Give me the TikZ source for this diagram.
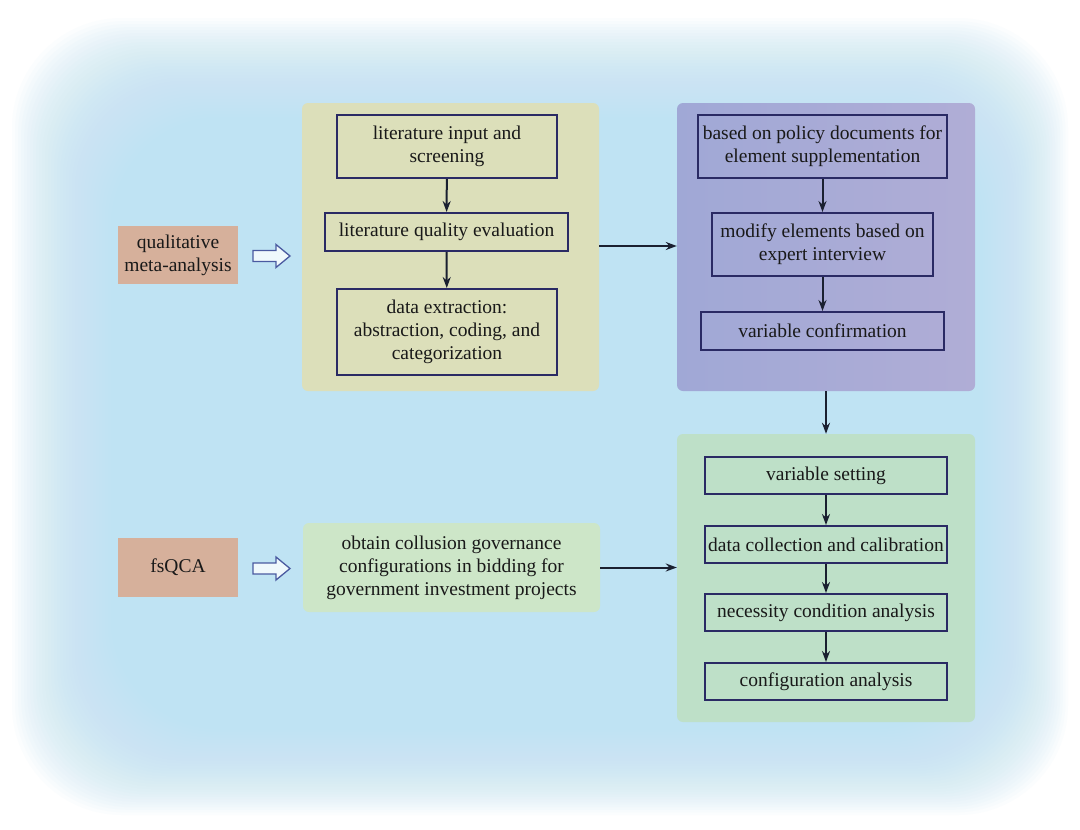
\documentclass[tikz,border=0pt]{standalone}
\usepackage{fontspec}
\setmainfont{Liberation Serif}
\usetikzlibrary{arrows.meta,calc}
\definecolor{bgblue}{HTML}{BFE3F3}
\definecolor{panelA}{HTML}{DCDFBA}
\definecolor{panelBl}{HTML}{A0A8D6}
\definecolor{panelBr}{HTML}{B0ADD6}
\definecolor{panelC}{HTML}{BEE0C8}
\definecolor{obtainc}{HTML}{CDE6C8}
\definecolor{salmon}{HTML}{D6B09B}
\definecolor{boxline}{HTML}{2A2A64}
\definecolor{arrline}{HTML}{1A2030}
\definecolor{hollowline}{HTML}{4A5AA0}
\begin{document}
\begin{tikzpicture}[x=1pt,y=-1pt,
  every node/.style={font=\fontsize{19.5}{23}\selectfont, text=black!90, align=center, inner sep=0pt},
  panel/.style={rounded corners=6pt, draw=none},
  stepbox/.style={draw=boxline, line width=2pt},
  srcbox/.style={fill=salmon, minimum width=120pt},
  flow/.style={draw=arrline, line width=2pt, -{Stealth[length=11pt,width=8pt]}},
  hollow/.style={draw=hollowline, line width=1.3pt, fill=white!75!bgblue}
]
\useasboundingbox (0,0) rectangle (1080,830);
\fill[white] (0,0) rectangle (1080,830);
\foreach \i in {0,...,49}{
  \fill[bgblue, fill opacity=0.06, rounded corners=110pt]
    ({12+3.0*\i},{18+3.0*\i}) rectangle ({1068-2.6*\i},{815-2.6*\i});
}
% panels
\node[panel, fill=panelA, minimum width=297pt, minimum height=288pt] (p1) at (450.5,247) {};
\node[panel, left color=panelBl, right color=panelBr, minimum width=298pt, minimum height=288pt] (p2) at (826,247) {};
\node[panel, fill=panelC, minimum width=298pt, minimum height=288pt] (p3) at (826,578) {};
\node[panel, fill=obtainc, minimum width=297pt, minimum height=89pt] (ob) at (451.5,567.5)
  {obtain collusion governance\\configurations in bidding for\\government investment projects};
% source boxes
\node[srcbox, minimum height=58pt] (qm) at (178,255) {qualitative\\meta-analysis};
\node[srcbox, minimum height=59pt] (fs) at (178,567.5) {fsQCA};
% panel 1 boxes
\node[stepbox, minimum width=220pt, minimum height=63pt] (b1) at (447,146.5) {literature input and\\screening};
\node[stepbox, minimum width=243pt, minimum height=38pt] (b2) at (446.5,232) {literature quality evaluation};
\node[stepbox, minimum width=220pt, minimum height=86pt] (b3) at (447,332) {data extraction:\\abstraction, coding, and\\categorization};
% panel 2 boxes
\node[stepbox, minimum width=249pt, minimum height=63pt] (c1) at (822.5,146.5) {based on policy documents for\\element supplementation};
\node[stepbox, minimum width=221pt, minimum height=63pt] (c2) at (822.5,244.5) {modify elements based on\\expert interview};
\node[stepbox, minimum width=243pt, minimum height=38pt] (c3) at (822.5,331) {variable confirmation};
% panel 3 boxes
\node[stepbox, minimum width=242pt, minimum height=37pt] (d1) at (826,475.5) {variable setting};
\node[stepbox, minimum width=242pt, minimum height=37pt] (d2) at (826,544.5) {data collection and calibration};
\node[stepbox, minimum width=242pt, minimum height=37pt] (d3) at (826,612.5) {necessity condition analysis};
\node[stepbox, minimum width=242pt, minimum height=37pt] (d4) at (826,681.5) {configuration analysis};
% arrows inside panels
\draw[flow] (b1) -- (b2);
\draw[flow] (b2) -- (b3);
\draw[flow] (c1) -- (c2);
\draw[flow] (c2) -- (c3);
\draw[flow] (d1) -- (d2);
\draw[flow] (d2) -- (d3);
\draw[flow] (d3) -- (d4);
% between panels
\draw[flow] (p1.east |- 0,246) -- (p2.west |- 0,246);
\draw[flow] (p2.south) -- (p3.north);
\draw[flow] (ob.east) -- (ob.east -| p3.west);
% hollow arrows
\coordinate (h1) at (253,256);
\coordinate (h2) at (253,568.5);
\foreach \h in {h1,h2}{
  \draw[hollow] ($(\h)+(0,-5.5)$) -- ++(23,0) -- ++(0,-6) -- ++(14,11.5) -- ++(-14,11.5) -- ++(0,-6) -- ++(-23,0) -- cycle;
}
\end{tikzpicture}
\end{document}
